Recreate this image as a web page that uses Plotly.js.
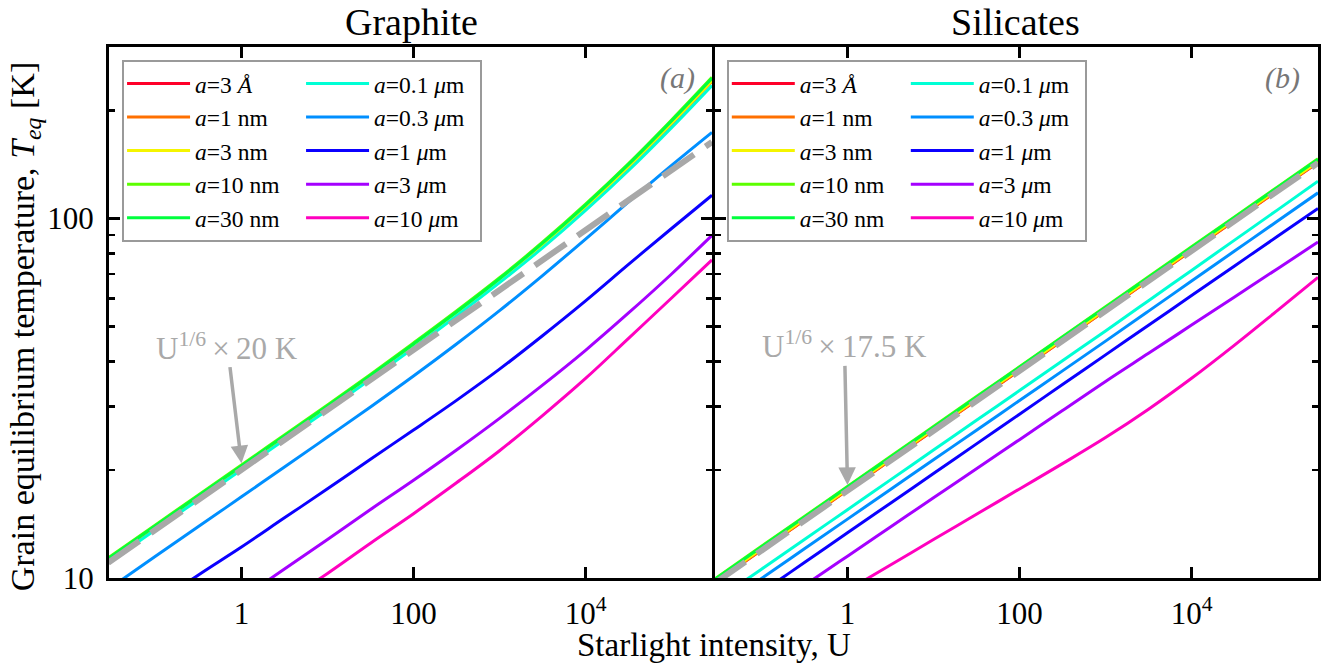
<!DOCTYPE html>
<html>
<head>
<meta charset="utf-8">
<script src="https://cdn.plot.ly/plotly-3.0.1.min.js"></script>
<style>
html,body{margin:0;padding:0;background:#fff;}
#chart{width:1331px;height:666px;}
</style>
</head>
<body>
<div id="chart"></div>
<script>
// ---------- data ----------
const U = [0.0282, 0.1, 0.316, 1, 3.16, 10, 31.6, 100, 316, 1000, 3160, 10000, 31600, 100000, 295000];

const sizeLabels = [
  '<i>a</i>=3 <i>Å</i>', '<i>a</i>=1 nm', '<i>a</i>=3 nm', '<i>a</i>=10 nm', '<i>a</i>=30 nm',
  '<i>a</i>=0.1 <i>μ</i>m', '<i>a</i>=0.3 <i>μ</i>m', '<i>a</i>=1 <i>μ</i>m', '<i>a</i>=3 <i>μ</i>m', '<i>a</i>=10 <i>μ</i>m'
];
const sizeColors = ['#ff0029', '#ff7000', '#f5f500', '#5cff00', '#00ff3d',
                    '#00ffd5', '#008fff', '#0b00ff', '#a500ff', '#ff00bf'];

// Graphite, T_eq [K]
const gra_3A    = [11.26, 13.90, 16.85, 20.40, 24.73, 29.92, 36.34, 44.42, 54.41, 67.19, 84.30, 107.4, 139.0, 183.5, 240.9];
const gra_1nm   = [11.28, 13.93, 16.88, 20.44, 24.78, 29.98, 36.41, 44.51, 54.52, 67.32, 84.47, 107.6, 139.3, 183.9, 241.4];
const gra_3nm   = [11.29, 13.94, 16.90, 20.46, 24.80, 30.01, 36.45, 44.55, 54.57, 67.39, 84.55, 107.7, 139.4, 184.1, 241.6];
const gra_10nm  = [11.38, 14.05, 17.03, 20.62, 25.00, 30.28, 36.82, 45.04, 55.28, 68.41, 85.91, 109.65, 142.25, 188.0, 247.0];
const gra_30nm  = [11.31, 13.97, 16.93, 20.50, 24.85, 30.10, 36.60, 44.77, 54.95, 68.00, 85.40, 109.0, 141.4, 186.9, 245.5];
const gra_01um  = [11.03, 13.62, 16.51, 19.99, 24.23, 29.35, 35.69, 43.65, 53.58, 66.30, 82.84, 105.3, 136.0, 179.0, 234.5];
const gra_03um  = [9.30, 11.50, 13.90, 16.82, 20.36, 24.66, 29.91, 36.47, 44.77, 55.43, 69.39, 87.66, 111.2, 140.5, 173.6];
const gra_1um   = [6.90, 8.45, 10.20, 12.20, 14.70, 17.70, 21.40, 25.80, 31.20, 38.10, 47.20, 59.00, 74.50, 93.80, 116.1];
const gra_3um   = [4.86, 5.98, 7.24, 8.75, 10.60, 12.80, 15.50, 18.70, 22.70, 27.80, 34.40, 43.00, 54.60, 70.10, 89.8];
const gra_10um  = [3.92, 4.83, 5.85, 7.07, 8.55, 10.30, 12.50, 15.10, 18.40, 22.60, 28.30, 35.90, 46.40, 60.10, 76.7];

// Silicates, T_eq [K]
const sil_3A    = [9.68, 11.97, 14.49, 17.56, 21.28, 25.77, 31.22, 37.83, 45.83, 55.52, 67.28, 81.50, 98.75, 119.63, 143.2];
const sil_1nm   = [9.69, 11.98, 14.50, 17.58, 21.30, 25.80, 31.26, 37.87, 45.88, 55.58, 67.35, 81.58, 98.85, 119.76, 143.4];
const sil_3nm   = [9.75, 12.05, 14.59, 17.69, 21.43, 25.95, 31.45, 38.10, 46.16, 55.92, 67.76, 82.08, 99.45, 120.49, 144.2];
const sil_10nm  = [9.91, 12.25, 14.83, 17.97, 21.78, 26.38, 31.96, 38.71, 46.91, 56.83, 68.85, 83.41, 101.06, 122.44, 146.6];
const sil_30nm  = [9.87, 12.20, 14.77, 17.90, 21.69, 26.27, 31.83, 38.56, 46.72, 56.60, 68.58, 83.08, 100.66, 121.95, 146.0];
const sil_01um  = [8.58, 10.58, 12.80, 15.49, 18.75, 22.69, 27.46, 33.22, 40.21, 48.65, 59.08, 71.72, 87.08, 105.7, 127.0];
const sil_03um  = [8.09, 9.97, 12.06, 14.58, 17.63, 21.32, 25.77, 31.17, 37.69, 45.60, 55.26, 66.99, 81.20, 98.40, 117.9];
const sil_1um   = [7.41, 9.13, 11.04, 13.36, 16.15, 19.53, 23.61, 28.56, 34.52, 41.75, 50.48, 61.04, 73.81, 89.25, 106.7];
const sil_3um   = [6.45, 7.92, 9.54, 11.50, 13.87, 16.71, 20.13, 24.26, 29.23, 35.23, 42.17, 50.52, 60.53, 72.53, 86.0];
const sil_10um  = [5.58, 6.68, 7.86, 9.24, 10.87, 12.79, 15.04, 17.69, 20.80, 24.58, 29.48, 35.94, 44.46, 55.54, 68.6];

// reference power laws U^(1/6) x 20 K and U^(1/6) x 17.5 K (end points)
const refU = [0.0282, 295000];
const refGraphite = [11.03, 163.2];
const refSilicate = [9.65, 142.8];

const xTickVals = [1, 100, 10000];
const xTickText = ['1', '100', '10<sup>4</sup>'];
const yTickVals = [10, 100];
const yTickText = ['10', '100'];
const yMinorVals = [20, 30, 40, 50, 60, 70, 80, 90, 200];

const graphiteSeries = [gra_3A, gra_1nm, gra_3nm, gra_10nm, gra_30nm, gra_01um, gra_03um, gra_1um, gra_3um, gra_10um];
const silicateSeries = [sil_3A, sil_1nm, sil_3nm, sil_10nm, sil_30nm, sil_01um, sil_03um, sil_1um, sil_3um, sil_10um];

// ---------- build ----------
const SERIF = '"Liberation Serif", "Times New Roman", serif';
const traces = [];
function addPanel(series, xa, ya, legendName, tag) {
  series.forEach((vals, i) => {
    traces.push({
      type: 'scatter', mode: 'lines', x: U, y: vals,
      xaxis: xa, yaxis: ya,
      name: sizeLabels[i],
      legend: legendName,
      legendgroup: tag + (i < 5 ? 'a' : 'b'),
      line: {color: sizeColors[i], width: 3, shape: 'spline', smoothing: 1},
      hoverinfo: 'skip'
    });
  });
}
addPanel(graphiteSeries, 'x', 'y', 'legend', 'g');
addPanel(silicateSeries, 'x2', 'y2', 'legend2', 's');
traces.push({type: 'scatter', mode: 'lines', x: refU, y: refGraphite, xaxis: 'x', yaxis: 'y',
  showlegend: false, line: {color: '#a8a8a8', width: 6, dash: '38px,14px'}, hoverinfo: 'skip'});
traces.push({type: 'scatter', mode: 'lines', x: refU, y: refSilicate, xaxis: 'x2', yaxis: 'y2',
  showlegend: false, line: {color: '#a8a8a8', width: 6, dash: '38px,14px'}, hoverinfo: 'skip'});

function xAxis(domain, anchor) {
  return {
    type: 'log', range: [-1.54, 5.47], domain: domain, anchor: anchor,
    tickmode: 'array', tickvals: xTickVals, ticktext: xTickText,
    ticks: 'inside', ticklen: 11, tickwidth: 3, tickcolor: '#000',
    showline: true, linewidth: 3, linecolor: '#000', mirror: 'allticks',
    showgrid: false, zeroline: false,
    tickfont: {family: SERIF, size: 31, color: '#000'}, ticklabelstandoff: 6
  };
}
function yAxis(anchor, showLabels) {
  return {
    type: 'log', range: [1, Math.log10(300)], anchor: anchor,
    tickmode: 'array', tickvals: yTickVals, ticktext: yTickText, showticklabels: showLabels,
    ticks: 'inside', ticklen: 11, tickwidth: 3, tickcolor: '#000',
    minor: {tickmode: 'array', tickvals: yMinorVals, ticks: 'inside', ticklen: 6, tickwidth: 2.5, tickcolor: '#000', showgrid: false},
    showline: true, linewidth: 3, linecolor: '#000', mirror: 'allticks',
    showgrid: false, zeroline: false,
    tickfont: {family: SERIF, size: 31, color: '#000'}, ticklabelstandoff: 6
  };
}
const legendStyle = (x) => ({
  x: x, y: 0.976, xanchor: 'left', yanchor: 'top', xref: 'paper', yref: 'paper',
  orientation: 'h', traceorder: 'grouped', tracegroupgap: 0,
  itemwidth: 63, entrywidth: 101,
  bgcolor: '#fff', bordercolor: '#9a9a9a', borderwidth: 2,
  font: {family: SERIF, size: 23.5, color: '#000'}
});

const layout = {
  width: 1331, height: 666,
  margin: {l: 109, r: 13, t: 47, b: 88},
  paper_bgcolor: '#fff', plot_bgcolor: '#fff',
  font: {family: SERIF, color: '#000'},
  xaxis: xAxis([0, 0.49876], 'y'),
  xaxis2: xAxis([0.50124, 1], 'y2'),
  yaxis: yAxis('x', true),
  yaxis2: yAxis('x2', false),
  legend: legendStyle(0.0108),
  legend2: legendStyle(0.511),
  showlegend: true,
  hovermode: false,
  annotations: [
    {xref: 'paper', yref: 'paper', x: 0.25, y: 1.047, text: 'Graphite', showarrow: false,
     xanchor: 'center', yanchor: 'middle', font: {family: SERIF, size: 38, color: '#000'}},
    {xref: 'paper', yref: 'paper', x: 0.75, y: 1.047, text: 'Silicates', showarrow: false,
     xanchor: 'center', yanchor: 'middle', font: {family: SERIF, size: 38, color: '#000'}},
    {xref: 'paper', yref: 'paper', x: 0.5, y: -0.126, text: 'Starlight intensity, U', showarrow: false,
     xanchor: 'center', yanchor: 'middle', font: {family: SERIF, size: 33, color: '#000'}},
    {xref: 'paper', yref: 'paper', x: -0.0695, y: 0.474, textangle: -90,
     text: 'Grain equilibrium temperature, <i>T</i><sub><i>eq</i></sub> [K]', showarrow: false,
     xanchor: 'center', yanchor: 'middle', font: {family: SERIF, size: 34, color: '#000'}},
    {xref: 'x', yref: 'y', x: 5.073, y: 2.39, text: '<i>(a)</i>', showarrow: false,
     xanchor: 'center', yanchor: 'middle', font: {family: SERIF, size: 30, color: '#777'}},
    {xref: 'x2', yref: 'y2', x: 5.056, y: 2.39, text: '<i>(b)</i>', showarrow: false,
     xanchor: 'center', yanchor: 'middle', font: {family: SERIF, size: 30, color: '#777'}},
    {xref: 'x', yref: 'y', x: 0, y: 1.3195, ax: -14, ay: -117,
     text: 'U<sup>1/6</sup>\u2009×\u200920 K', showarrow: true,
     arrowhead: 2, arrowsize: 1, arrowwidth: 3.5, arrowcolor: '#a9a9a9', standoff: 0, borderpad: 1,
     font: {family: SERIF, size: 31, color: '#a9a9a9'}},
    {xref: 'x2', yref: 'y2', x: 0, y: 1.259, ax: -3, ay: -140,
     text: 'U<sup>1/6</sup>\u2009×\u200917.5 K', showarrow: true,
     arrowhead: 2, arrowsize: 1, arrowwidth: 3.5, arrowcolor: '#a9a9a9', standoff: 0, borderpad: 1,
     font: {family: SERIF, size: 31, color: '#a9a9a9'}}
  ]
};

Plotly.newPlot('chart', traces, layout, {staticPlot: true, displayModeBar: false});
</script>
</body>
</html>
